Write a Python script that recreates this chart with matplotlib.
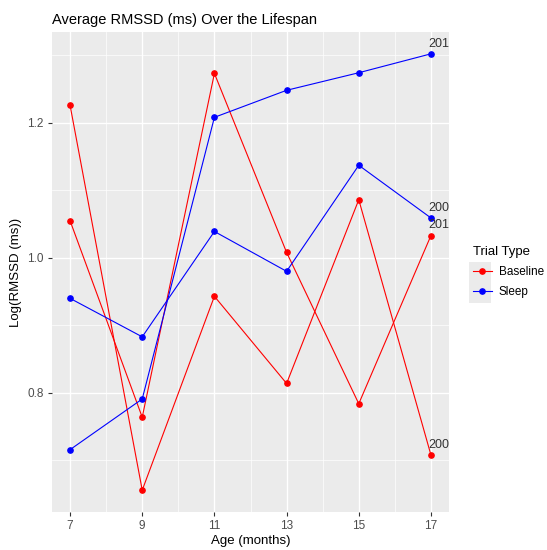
import matplotlib.pyplot as plt
from matplotlib.ticker import MultipleLocator
from matplotlib.patches import Rectangle

plt.rcParams['font.family'] = ['Liberation Sans', 'DejaVu Sans']

# ages (months)
ages = [7, 9, 11, 13, 15, 17]

# baseline trials
baseline_a = [1.226, 0.656, 0.943, 0.814, 1.086, 0.708]
baseline_b = [1.055, 0.764, 1.273, 1.008, 0.784, 1.033]
# sleep trials
sleep_a = [0.716, 0.791, 1.208, 1.248, 1.274, 1.302]
sleep_b = [0.940, 0.883, 1.039, 0.980, 1.137, 1.059]

series = [
    (baseline_a, 'red', '200'),
    (baseline_b, 'red', '201'),
    (sleep_a, 'blue', '201'),
    (sleep_b, 'blue', '200'),
]

fig = plt.figure(figsize=(5.47, 5.5), dpi=100)
ax = fig.add_axes([52/547, 38/550, 397/547, 480/550])
ax.set_facecolor('#EBEBEB')

for vals, col, lab in series:
    ax.plot(ages, vals, color=col, lw=0.8, marker='o', ms=3.8, zorder=3)
    ax.annotate(lab, (ages[-1], vals[-1]), xytext=(-2, 3), textcoords='offset points',
                fontsize=9, color='#333333', ha='left', va='bottom',
                annotation_clip=False, clip_on=True, zorder=4)

ax.set_xlim(6.5, 17.5)
ax.set_ylim(0.6237, 1.3343)
ax.set_xticks(ages)
ax.yaxis.set_major_locator(MultipleLocator(0.2))
ax.yaxis.set_minor_locator(MultipleLocator(0.1))
ax.xaxis.set_minor_locator(MultipleLocator(1))
ax.grid(which='major', color='white', lw=1.0)
ax.grid(which='minor', color='white', lw=0.5)
ax.set_axisbelow(True)
for s in ax.spines.values():
    s.set_visible(False)
ax.tick_params(which='major', colors='#333333', labelcolor='#4D4D4D', labelsize=8.5, length=3, pad=3)
ax.tick_params(which='minor', length=0)

ax.set_xlabel('Age (months)', fontsize=9.5, labelpad=2)
ax.set_ylabel('Log(RMSSD (ms))', fontsize=9.5, labelpad=4)
ax.set_title('Average RMSSD (ms) Over the Lifespan', fontsize=10.5, loc='left', pad=6)

# grey legend key background
fig.patches.append(Rectangle((469/547, 1-303/550), 22/547, 41/550, transform=fig.transFigure,
                             facecolor='#EBEBEB', edgecolor='none', zorder=0))

h1, = ax.plot([], [], color='red', lw=0.8, marker='o', ms=3.8, label='Baseline')
h2, = ax.plot([], [], color='blue', lw=0.8, marker='o', ms=3.8, label='Sleep')
leg = fig.legend(handles=[h1, h2], title='Trial Type', loc='center left',
                 bbox_to_anchor=(462/547, 1-272/550), frameon=False, fontsize=8.5,
                 title_fontsize=9.5, handlelength=1.6, handletextpad=0.6,
                 labelspacing=0.7, alignment='left')

fig.savefig('out.png', dpi=100)
